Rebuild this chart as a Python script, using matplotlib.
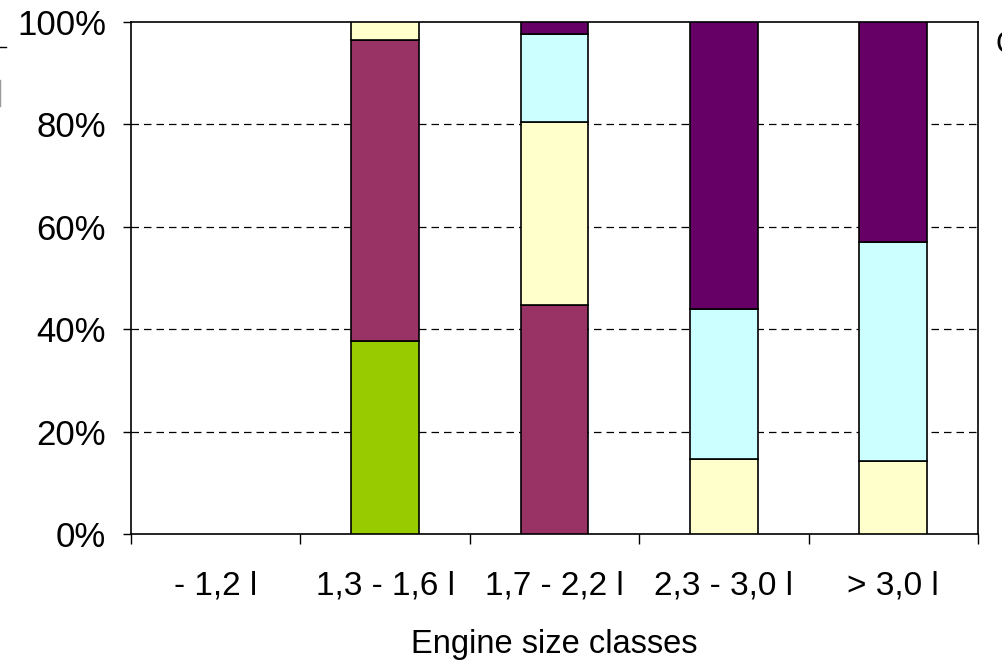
import matplotlib
matplotlib.use("Agg")
import matplotlib.pyplot as plt
from matplotlib.lines import Line2D
import numpy as np

plt.rcParams['font.family'] = ['Liberation Sans', 'DejaVu Sans']

categories = ['- 1,2 l', '1,3 - 1,6 l', '1,7 - 2,2 l', '2,3 - 3,0 l', '> 3,0 l']
# shares (%) per segment, bottom to top
green = [0, 37.7, 0, 0, 0]
maroon = [0, 58.8, 44.7, 0, 0]
yellow = [0, 3.5, 35.8, 14.6, 14.3]
cyan = [0, 0, 17.1, 29.3, 42.7]
purple = [0, 0, 2.4, 56.1, 43.0]

series = [green, maroon, yellow, cyan, purple]
colors = ['#99CC00', '#993366', '#FFFFCC', '#CCFFFF', '#660066']

fig = plt.figure(figsize=(10.03, 6.61), dpi=100)
ax = fig.add_axes([131 / 1003, 1 - 534 / 661, 847 / 1003, 512 / 661])

x = np.arange(len(categories))
bottom = np.zeros(len(categories))
for vals, c in zip(series, colors):
    vals = np.array(vals)
    mask = vals > 0
    ax.bar(x[mask], vals[mask], 0.4, bottom=bottom[mask], color=c,
           edgecolor='black', linewidth=1.2, zorder=3)
    bottom += vals

ax.set_xlim(-0.5, len(categories) - 0.5)
ax.set_ylim(0, 100)
ax.set_yticks([0, 20, 40, 60, 80, 100])
ax.set_yticklabels([f'{v}%' for v in range(0, 101, 20)], fontsize=25)
ax.set_xticks(np.arange(-0.5, len(categories), 1))
ax.set_xticklabels([])
ax.set_xticks(x, minor=True)
ax.set_xticklabels(categories, minor=True, fontsize=24)
ax.tick_params(axis='x', which='minor', length=0, pad=26)
ax.tick_params(axis='x', which='major', length=7.5, width=1, direction='out')
ax.tick_params(axis='y', length=6, width=1, direction='out', pad=12)
ax.set_xlabel('Engine size classes', fontsize=23.5, labelpad=20)

for y in [20, 40, 60, 80]:
    ax.axhline(y, color='black', linestyle=(0, (6, 4)), linewidth=0.9, zorder=1)

for s in ax.spines.values():
    s.set_color('black')
    s.set_linewidth(1.2)

# cropped fragments at the edges of the original figure
fig.add_artist(Line2D([0, 6 / 1003], [1 - 47 / 661, 1 - 47 / 661], color='black', linewidth=1))
fig.add_artist(Line2D([0.5 / 1003, 0.5 / 1003], [1 - 80 / 661, 1 - 106 / 661], color='#999999', linewidth=1))
fig.text(996 / 1003, 1 - 45 / 661, 'C', fontsize=22, va='center', ha='left')

plt.savefig('out.png', dpi=100)
plt.close()
